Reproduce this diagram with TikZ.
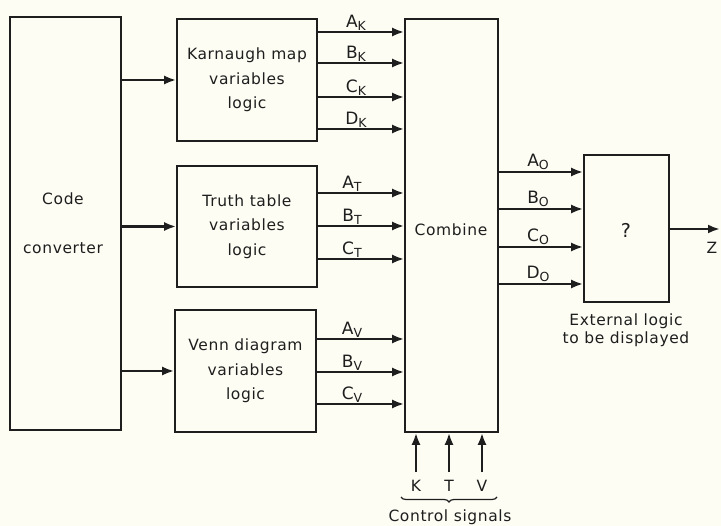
\documentclass[tikz,border=0pt]{standalone}
\usepackage{fontspec}
\setmainfont{DejaVu Sans}[LetterSpace=4]
\usetikzlibrary{arrows.meta,decorations.pathreplacing}
\definecolor{ink}{HTML}{1E1E1E}
\definecolor{paper}{HTML}{FDFDF4}
\newcommand\sig[2]{#1\raisebox{-3pt}{\fontsize{12.5}{12.5}\selectfont #2}}
\tikzset{
  blk/.style={draw=ink, line width=1.6pt, rectangle, inner sep=0pt, align=center,
              text=ink, font=\fontsize{15.5}{24.5}\selectfont},
  arr/.style={draw=ink, line width=2.8pt, -{Latex[length=12pt,width=9pt]}},
  lab/.style={font=\fontsize{15.5}{15.5}\selectfont, text=ink, inner sep=0pt},
  sigl/.style={lab, anchor=base, font=\fontsize{17}{17}\selectfont},
}
\begin{document}
\begin{tikzpicture}[x=1pt,y=-1pt]
\fill[paper] (0,0) rectangle (721,526);
\useasboundingbox (0,0) rectangle (721,526);

% blocks
\node[blk, minimum width=111pt, minimum height=413pt] (cc) at (65.5,223.5) {};
\node[lab] (cct1) at (63,199) {Code};
\node[lab] (cct2) at (63,248) {converter};
\node[blk, minimum width=140pt, minimum height=122pt] (kar) at (247,80) {Karnaugh map\\variables\\logic};
\node[blk, minimum width=140pt, minimum height=121pt] (tru) at (247,226.5) {Truth table\\variables\\logic};
\node[blk, minimum width=141pt, minimum height=122pt] (ven) at (245.5,371) {Venn diagram\\variables\\logic};
\node[blk, minimum width=93pt, minimum height=413pt] (comb) at (451.5,225.5) {};
\node[lab] (combt) at (451,230) {Combine};
\node[blk, minimum width=85pt, minimum height=147pt] (ext) at (626.5,228.5) {};
\node[lab, font=\fontsize{19}{19}\selectfont] (q) at (626,230) {?};
\node[lab] (extt1) at (626,321) {External logic};
\node[lab] (extt2) at (626,339) {to be displayed};

% code converter outputs
\draw[arr] (cc.east |- kar.west) -- (kar.west);
\draw[arr] (cc.east |- tru.west) -- (tru.west);
\draw[arr] (cc.east |- ven.west) -- (ven.west);

% Karnaugh outputs
\foreach \y/\l in {32/A,63/B,97/C,129/D}{
  \draw[arr] (kar.east |- 0,\y) -- (comb.west |- 0,\y);
  \node[sigl] at (356,\y-4) {\sig{\l}{K}};
}
% Truth outputs
\foreach \y/\l in {193/A,226/B,259/C}{
  \draw[arr] (tru.east |- 0,\y) -- (comb.west |- 0,\y);
  \node[sigl] at (352,\y-4) {\sig{\l}{T}};
}
% Venn outputs
\foreach \y/\l in {339/A,372/B,404/C}{
  \draw[arr] (ven.east |- 0,\y) -- (comb.west |- 0,\y);
  \node[sigl] at (352,\y-4) {\sig{\l}{V}};
}
% Combine outputs
\foreach \y/\l in {172/A,209/B,247/C,284/D}{
  \draw[arr] (comb.east |- 0,\y) -- (ext.west |- 0,\y);
  \node[sigl] at (538,\y-5) {\sig{\l}{O}};
}
% Z output
\coordinate (zend) at (720,229);
\draw[arr] (ext.east |- zend) -- (zend);
\node[lab] (z) at (712,248) {Z};

% control signals
\node[lab] (k) at (416,486) {K};
\node[lab] (t) at (449,486) {T};
\node[lab] (v) at (482,486) {V};
\foreach \n in {k,t,v}{
  \coordinate (\n s) at ([yshift=8pt]\n.north);
  \draw[arr] (\n s) -- (comb.south -| \n s);
}
\draw[draw=ink, line width=1.2pt, decorate, decoration={brace, mirror, amplitude=5pt}]
  (401,497) -- (497,497);
\node[lab] (cs) at (450,517) {Control signals};
\end{tikzpicture}
\end{document}
